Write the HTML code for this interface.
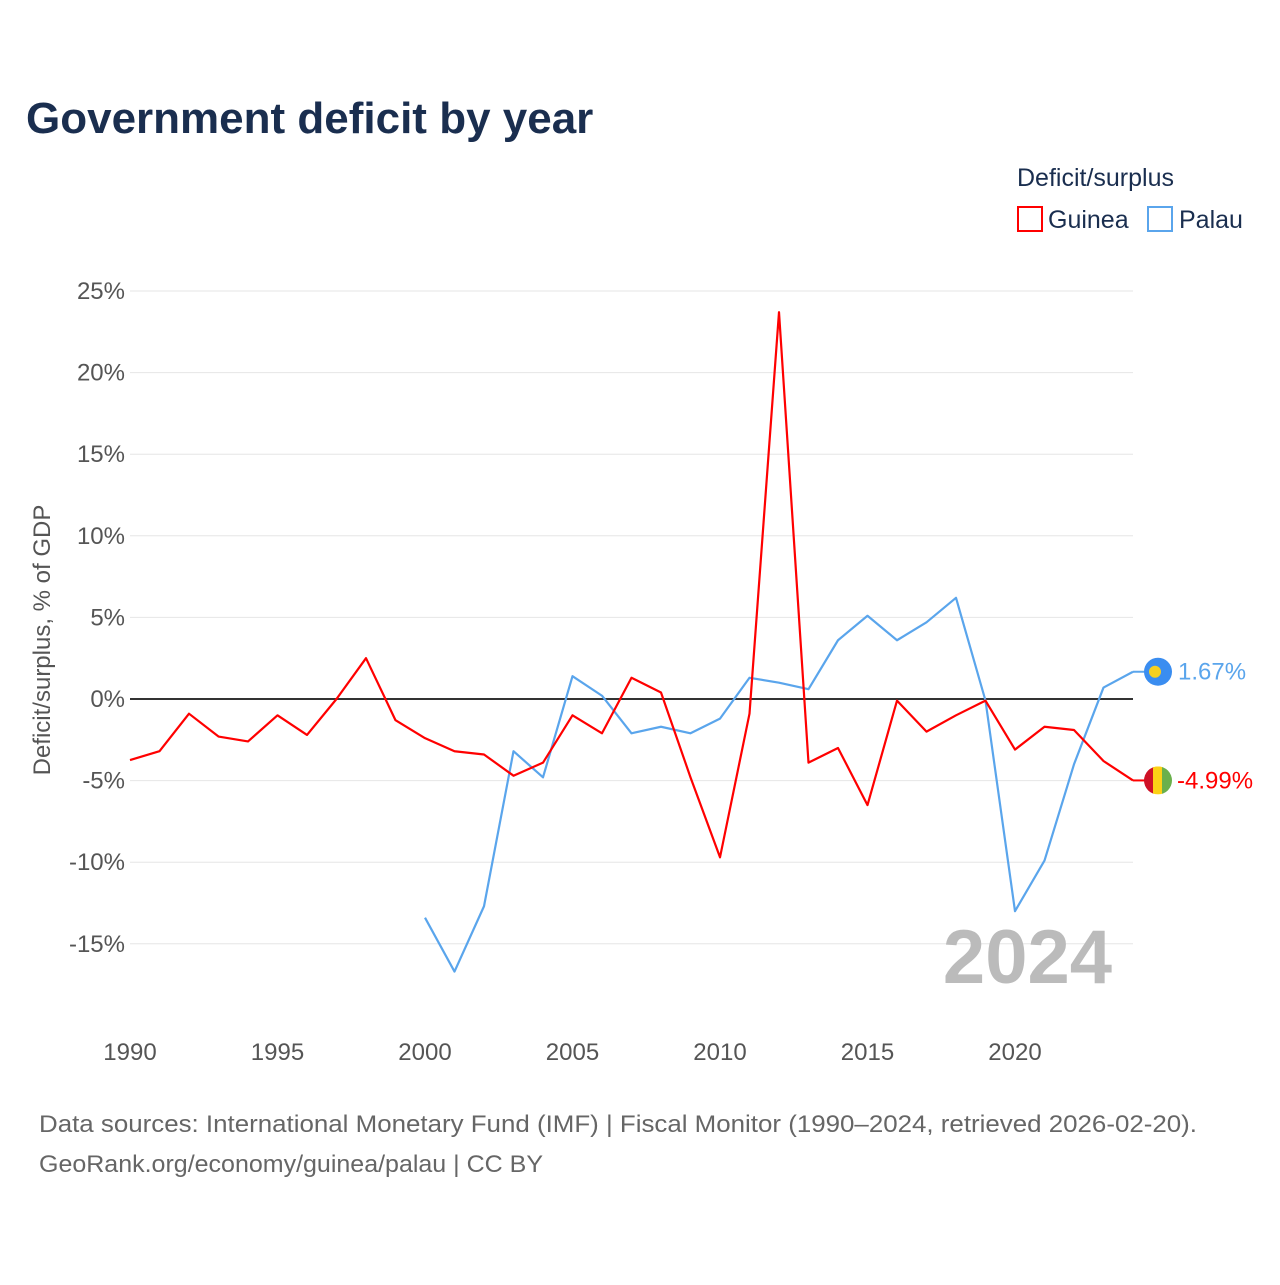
<!DOCTYPE html>
<html><head><meta charset="utf-8"><style>
body{margin:0;background:#fff;font-family:"Liberation Sans",sans-serif;}
svg text{font-family:"Liberation Sans",sans-serif;}
</style></head><body>
<svg width="1280" height="1280" viewBox="0 0 1280 1280">
<text x="26" y="133" font-size="44" font-weight="bold" fill="#1a2e4f">Government deficit by year</text>
<text x="1017" y="186" font-size="25" fill="#1a2e4f">Deficit/surplus</text>
<g><rect x="1018" y="207" width="24" height="24" fill="none" stroke="#f00" stroke-width="2"/><text x="1048" y="228" font-size="25" fill="#1a2e4f">Guinea</text></g>
<g><rect x="1148" y="207" width="24" height="24" fill="none" stroke="#5aa5ec" stroke-width="2"/><text x="1179" y="228" font-size="25" fill="#1a2e4f">Palau</text></g>
<g id="grid"></g>
<g id="yticks"></g>
<g id="xticks"></g>
<text transform="translate(50,640) rotate(-90)" text-anchor="middle" font-size="24" fill="#555">Deficit/surplus, % of GDP</text>
<text x="1112" y="983" text-anchor="end" font-size="76" font-weight="bold" fill="#bbb">2024</text>
<g id="series"></g>
<text x="39" y="1132" font-size="24" fill="#666" textLength="1158" lengthAdjust="spacingAndGlyphs">Data sources: International Monetary Fund (IMF) | Fiscal Monitor (1990–2024, retrieved 2026-02-20).</text>
<text x="39" y="1172" font-size="24" fill="#666" textLength="504" lengthAdjust="spacingAndGlyphs">GeoRank.org/economy/guinea/palau | CC BY</text>
</svg>
<script>
const yTicks=[25,20,15,10,5,0,-5,-10,-15];
const xTicks=[1990,1995,2000,2005,2010,2015,2020];
const guineaYears=[1990,1991,1992,1993,1994,1995,1996,1997,1998,1999,2000,2001,2002,2003,2004,2005,2006,2007,2008,2009,2010,2011,2012,2013,2014,2015,2016,2017,2018,2019,2020,2021,2022,2023,2024];
const guineaValues=[-3.74,-3.2,-0.9,-2.3,-2.6,-1.0,-2.2,0,2.5,-1.3,-2.4,-3.2,-3.4,-4.7,-3.9,-1.0,-2.1,1.3,0.4,-4.8,-9.7,-0.9,23.7,-3.9,-3.0,-6.5,-0.1,-2.0,-1.0,-0.1,-3.1,-1.7,-1.9,-3.8,-4.99];
const palauYears=[2000,2001,2002,2003,2004,2005,2006,2007,2008,2009,2010,2011,2012,2013,2014,2015,2016,2017,2018,2019,2020,2021,2022,2023,2024];
const palauValues=[-13.4,-16.7,-12.7,-3.2,-4.8,1.4,0.2,-2.1,-1.7,-2.1,-1.2,1.3,1.0,0.6,3.6,5.1,3.6,4.7,6.2,-0.1,-13.0,-9.9,-4.0,0.7,1.67];
const NS='http://www.w3.org/2000/svg';
const x=v=>130+(v-1990)*(1015-130)/30;
const y=v=>699-v*(699-291)/25;
function mk(t,a,p){const e=document.createElementNS(NS,t);for(const k in a)e.setAttribute(k,a[k]);p.appendChild(e);return e;}
const grid=document.getElementById('grid'),yt=document.getElementById('yticks'),xt=document.getElementById('xticks'),ser=document.getElementById('series');
yTicks.forEach(v=>{
 const l=mk('line',{x1:130,x2:1133,y1:y(v),y2:y(v),stroke:v===0?'#333':'#e6e6e6','stroke-width':v===0?2:1},grid);
 
 
 const t=mk('text',{x:125,y:y(v)+8,'text-anchor':'end','font-size':24,fill:'#555'},yt);
 t.textContent=v+'%';
 
 
});
xTicks.forEach(v=>{
 const t=mk('text',{x:x(v),y:1060,'text-anchor':'middle','font-size':24,fill:'#555'},xt);
 t.textContent=v;
 
 
});
function line(ys,vs,c,name){
 const p=mk('polyline',{points:ys.map((yr,i)=>x(yr)+','+y(vs[i])).join(' '),fill:'none',stroke:c,'stroke-width':2.2,'stroke-linejoin':'round'},ser);
 
 
 const last=vs[vs.length-1];
 mk('line',{x1:x(ys[ys.length-1]),x2:1145,y1:y(last),y2:y(last),stroke:c,'stroke-width':2},ser);
 return last;
}
const pl=line(palauYears,palauValues,'#5aa5ec','line-palau');
const gl=line(guineaYears,guineaValues,'#f00','line-guinea');
let g=mk('g',{},ser);
mk('circle',{cx:1158,cy:y(pl),r:14,fill:'#3a8df0'},g);mk('circle',{cx:1155,cy:y(pl),r:6,fill:'#f5d020'},g);
let t=mk('text',{x:1178,y:y(pl)+8,'font-size':24,fill:'#5aa5ec'},ser);t.textContent=pl.toFixed(2)+'%';


g=mk('g',{},ser);
const cy=y(gl);
const cpath=mk('clipPath',{id:'fc'},g);
mk('circle',{cx:1158,cy:cy,r:14},cpath);
const fg=mk('g',{'clip-path':'url(#fc)'},g);
mk('rect',{x:1144,y:cy-14,width:10,height:28,fill:'#ce1126'},fg);
mk('rect',{x:1153,y:cy-14,width:10,height:28,fill:'#fcd116'},fg);
mk('rect',{x:1162,y:cy-14,width:10,height:28,fill:'#6ab04c'},fg);
t=mk('text',{x:1177,y:cy+8,'font-size':24,fill:'#f00'},ser);t.textContent=gl.toFixed(2)+'%';


</script>
</body></html>
